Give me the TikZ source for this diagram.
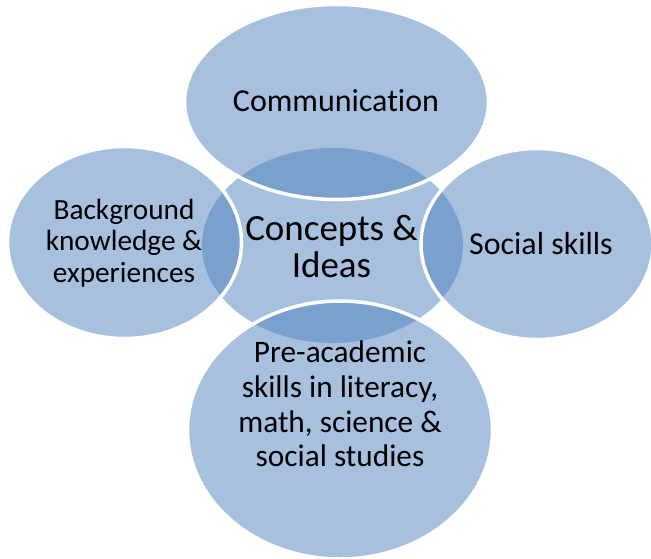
\documentclass[tikz,border=0pt]{standalone}
\usepackage{fontspec}
\setmainfont{Carlito}[Ligatures=NoCommon]
\usetikzlibrary{shapes.geometric}
\definecolor{accblue}{RGB}{79,129,189}
\begin{document}
\begin{tikzpicture}[x=1pt,y=-1pt,
  hub/.style={ellipse, fill=accblue, fill opacity=0.5, inner sep=0pt, outer sep=0pt},
  bubble/.style={ellipse, fill=accblue, fill opacity=0.5, draw=white, draw opacity=1, line width=3.5pt, inner sep=0pt, outer sep=0pt},
  lbl/.style={align=center, text=black, text opacity=1, inner sep=0pt}]
\useasboundingbox (0,0) rectangle (651,558);
\node[hub, minimum width=261pt, minimum height=195pt] (hub) at (332.5,245.5) {};
\node[bubble, minimum width=304pt, minimum height=195pt] (comm) at (336.5,102) {};
\node[bubble, minimum width=234pt, minimum height=192pt] (back) at (124.5,242.5) {};
\node[bubble, minimum width=232pt, minimum height=191pt] (soc) at (537,244) {};
\node[bubble, minimum width=305pt, minimum height=258pt] (pre) at (340,430) {};
\node[lbl, font=\fontsize{32}{37}\selectfont] (tcomm) at (336,101) {Communication};
\node[lbl, font=\fontsize{29.3}{31.5}\selectfont] (tback) at (124,243) {Background\\knowledge \&\\experiences};
\node[lbl, font=\fontsize{31.9}{37}\selectfont] (tsoc) at (541,244) {Social skills};
\node[lbl, font=\fontsize{31.3}{34.8}\selectfont] (tpre) at (340,404) {Pre-academic\\skills in literacy,\\math, science \&\\social studies};
\node[lbl, font=\fontsize{37}{37}\selectfont] (thub) at (331.5,246) {Concepts \&\\Ideas};
\end{tikzpicture}
\end{document}
